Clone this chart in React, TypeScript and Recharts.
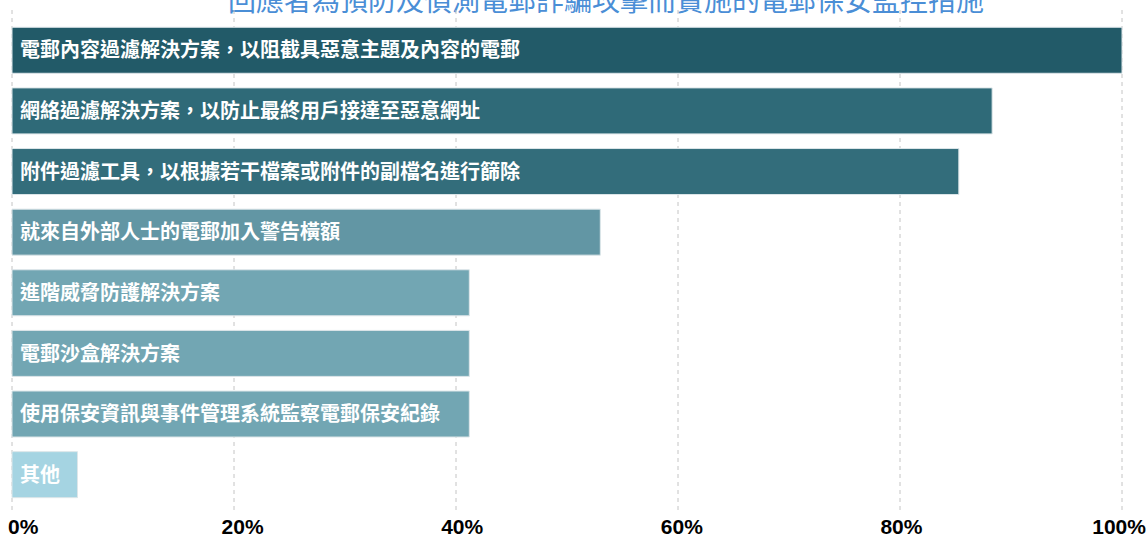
import { BarChart, Bar, XAxis, YAxis, CartesianGrid, Cell, LabelList } from 'recharts';

const measures = [
  '電郵內容過濾解決方案，以阻截具惡意主題及內容的電郵',
  '網絡過濾解決方案，以防止最終用戶接達至惡意網址',
  '附件過濾工具，以根據若干檔案或附件的副檔名進行篩除',
  '就來自外部人士的電郵加入警告橫額',
  '進階威脅防護解決方案',
  '電郵沙盒解決方案',
  '使用保安資訊與事件管理系統監察電郵保安紀錄',
  '其他',
];
const shares = [100, 88.3, 85.3, 53.0, 41.2, 41.2, 41.2, 5.9];
const barColors = ['#225a68', '#2f6a78', '#336d7b', '#6296a4', '#72a6b3', '#72a6b3', '#72a6b3', '#a5d4e2'];
const xTicks = [0, 20, 40, 60, 80, 100];
const title = '回應者為預防及偵測電郵詐騙攻擊而實施的電郵保安監控措施';

const data = measures.map((name, i) => ({ name, value: shares[i] }));

const PercentTick = (props: any) => {
  const { x, y, payload } = props;
  const v = payload.value;
  let anchor: 'start' | 'middle' | 'end' = 'middle';
  let tx = x + 12 * (1 - v / 100) - 1; // labels sit a bit right of their gridlines
  if (v === 0) {
    anchor = 'start';
    tx = x - 4;
  } else if (v === 100) {
    anchor = 'end';
    tx = 1146;
  }
  return (
    <text
      x={tx}
      y={y}
      dy={19}
      textAnchor={anchor}
      fill="#000"
      fontSize={21}
      fontWeight="bold"
      fontFamily="'Liberation Sans', Arial, sans-serif"
    >
      {v}%
    </text>
  );
};

export default function App() {
  return (
    <div style={{ position: 'absolute', left: 0, top: 0, width: 1147, height: 538, overflow: 'hidden', background: '#fff' }}>
      <div
        style={{
          position: 'absolute',
          left: 228,
          top: -15,
          width: 760,
          fontSize: 28,
          lineHeight: '28px',
          color: '#4a8ed6',
          fontFamily: "'Noto Sans CJK TC', sans-serif",
          whiteSpace: 'nowrap',
        }}
      >
        {title}
      </div>
      <BarChart
        width={1147}
        height={538}
        data={data}
        layout="vertical"
        margin={{ top: 10, right: 25, left: 12, bottom: 0 }}
        barCategoryGap="12%"
      >
        <CartesianGrid vertical horizontal={false} stroke="#c4c4c4" strokeDasharray="4 4" />
        <XAxis
          type="number"
          domain={[0, 100]}
          ticks={xTicks}
          axisLine={false}
          tickLine={false}
          tickSize={0}
          height={25}
          tick={<PercentTick />}
          interval={0}
        />
        <YAxis type="category" dataKey="name" hide padding={{ top: 10, bottom: 8 }} />
        <Bar dataKey="value" isAnimationActive={false} stroke="#dde6e9" strokeWidth={1}>
          {data.map((d, i) => (
            <Cell key={d.name} fill={barColors[i]} />
          ))}
          <LabelList
            dataKey="name"
            position="insideLeft"
            offset={8}
            fill="#ffffff"
            fontSize={20}
            fontWeight="bold"
            fontFamily="'Noto Sans CJK TC', serif"
          />
        </Bar>
      </BarChart>
    </div>
  );
}
